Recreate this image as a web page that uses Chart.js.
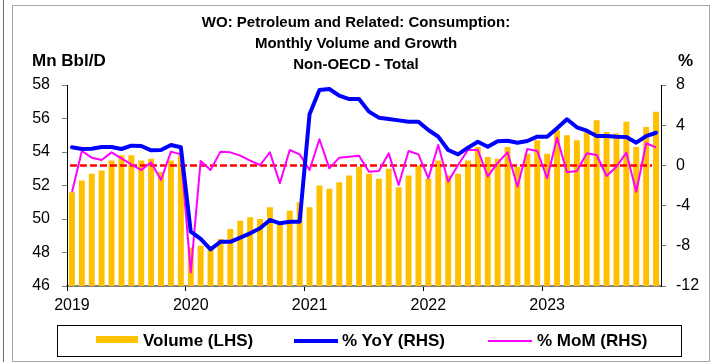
<!DOCTYPE html>
<html>
<head>
<meta charset="utf-8">
<script src="https://cdn.jsdelivr.net/npm/chart.js@4.4.1/dist/chart.umd.min.js"></script>
<style>
  html, body { margin: 0; padding: 0; background: #fff; }
  #wrap { position: relative; width: 712px; height: 362px; overflow: hidden;
          font-family: 'Liberation Sans', Arial, sans-serif; color: #000; }
  #edge { position: absolute; left: 3px; top: 0; width: 1px; height: 362px; background: #6e6e6e; }
  #frame { position: absolute; left: 12px; top: 5px; width: 696px; height: 355px; border: 1px solid #a6a6a6; }
  canvas { position: absolute; left: 0; top: 0; }
  .unit { position: absolute; font-weight: bold; font-size: 17px; line-height: 17px; white-space: nowrap; }
  #legend { position: absolute; left: 57px; top: 325px; width: 623px; height: 30px; border: 1px solid #000; }
  #legend .key { position: absolute; }
  #legend .txt { position: absolute; top: 0; line-height: 30px; font-size: 17px; font-weight: bold; white-space: nowrap; }
</style>
</head>
<body>
<div id="wrap">
  <div id="edge"></div>
  <div id="frame"></div>
  <canvas id="c" width="712" height="362"></canvas>
  <div class="unit" style="left:32px;top:52px;">Mn Bbl/D</div>
  <div class="unit" style="left:678px;top:52px;">%</div>
  <div id="legend"></div>
</div>
<script>
// Monthly series, Jan 2019 - Dec 2023
const years = ['2019', '2020', '2021', '2022', '2023'];
const monthNames = ['Jan', 'Feb', 'Mar', 'Apr', 'May', 'Jun', 'Jul', 'Aug', 'Sep', 'Oct', 'Nov', 'Dec'];

// Consumption volume, Mn Bbl/D (left axis)
const volume = [
  51.6, 52.3, 52.7, 52.9, 53.5, 53.8, 53.8, 53.5, 53.6, 52.8, 53.5, 53.8,
  48.3, 48.4, 48.2, 48.8, 49.4, 49.9, 50.1, 50.0, 50.7, 49.8, 50.5, 51.0,
  50.7, 52.0, 51.8, 52.2, 52.6, 53.1, 52.7, 52.4, 53.0, 51.9, 52.6, 53.2,
  52.4, 53.5, 52.6, 52.7, 53.5, 54.3, 53.7, 53.6, 54.3, 53.1, 53.9, 54.7,
  53.9, 55.3, 55.0, 54.7, 55.2, 55.9, 55.2, 55.1, 55.8, 54.3, 55.5, 56.4
];

// Year-on-year growth, % (right axis)
const yoy = [
  1.8, 1.63, 1.66, 1.83, 1.83, 1.63, 1.96, 1.93, 1.5, 1.53, 2.03, 1.8,
  -6.6, -7.3, -8.35, -7.6, -7.6, -7.19, -6.76, -6.26, -5.43, -5.76, -5.6, -5.6,
  5.1, 7.5, 7.6, 6.94, 6.6, 6.6, 5.35, 4.75, 4.62, 4.48, 4.35, 4.35,
  3.52, 2.86, 1.53, 1.1, 1.76, 2.36, 1.86, 2.4, 2.46, 2.26, 2.43, 2.86,
  2.86, 3.69, 4.59, 3.79, 3.45, 2.92, 2.92, 2.86, 2.83, 2.26, 2.92, 3.25
];

// Month-on-month growth, % (right axis)
const mom = [
  -2.68, 1.43, 0.77, 0.54, 1.3, 0.7, 0.1, -0.46, 0.3, -1.45, 1.37, 1.1,
  -10.64, 0.44, -0.46, 1.37, 1.3, 0.97, 0.47, 0.04, 1.3, -1.78, 1.53, 1.1,
  -0.46, 2.6, -0.29, 0.77, 0.87, 0.97, -0.63, -0.56, 1.2, -1.95, 1.43, 1.1,
  -1.29, 2.03, -1.62, 0.04, 1.53, 1.53, -1.1, 0.25, 1.3, -2.12, 1.63, 1.43,
  -1.29, 2.76, -0.69, -0.56, 1.2, 1.03, -1.05, -0.13, 1.27, -2.62, 2.2, 1.8
];

const seriesNames = ['Volume (LHS)', '% YoY (RHS)', '% MoM (RHS)'];
const titleLines = ['WO: Petroleum and Related: Consumption:', 'Monthly Volume and Growth', 'Non-OECD - Total'];

const leftTicks = [46, 48, 50, 52, 54, 56, 58];
const rightTicks = [-12, -8, -4, 0, 4, 8];

const labels = [];
years.forEach(y => monthNames.forEach(m => labels.push(m + ' ' + y)));

const FONT = "'Liberation Sans', Arial, sans-serif";
const COLORS = { volume: '#FFC000', yoy: '#0000FF', mom: '#FF00FF', zero: '#FF0000' };

// dashed red reference line at 0 % on the right axis, painted over the bars
const zeroLine = {
  id: 'zeroLine',
  afterDatasetDraw(chart, args) {
    if (args.index !== 0) return;
    const { ctx } = chart;
    const xs = chart.scales.x, ys = chart.scales.yR;
    const py = ys.getPixelForValue(0);
    ctx.save();
    ctx.strokeStyle = COLORS.zero;
    ctx.lineWidth = 2.5;
    ctx.setLineDash([7, 3]);
    ctx.beginPath();
    ctx.moveTo(xs.getPixelForValue(0) - 2, py);
    ctx.lineTo(xs.getPixelForValue(labels.length - 1) - 4, py);
    ctx.stroke();
    ctx.restore();
  }
};

new Chart(document.getElementById('c'), {
  type: 'bar',
  data: {
    labels,
    datasets: [
      { type: 'bar', label: seriesNames[0], data: volume, yAxisID: 'yL',
        backgroundColor: COLORS.volume, categoryPercentage: 1, barPercentage: 0.6, order: 3 },
      { type: 'line', label: seriesNames[1], data: yoy, yAxisID: 'yR',
        borderColor: COLORS.yoy, borderWidth: 4, pointRadius: 0, tension: 0,
        borderJoinStyle: 'round', borderCapStyle: 'round', order: 0 },
      { type: 'line', label: seriesNames[2], data: mom, yAxisID: 'yR',
        borderColor: COLORS.mom, borderWidth: 2, pointRadius: 0, tension: 0,
        borderJoinStyle: 'round', order: 1 }
    ]
  },
  options: {
    responsive: false,
    animation: false,
    devicePixelRatio: 1,
    layout: { padding: 0 },
    plugins: {
      legend: { display: false },
      tooltip: { enabled: false },
      title: {
        display: true,
        text: titleLines,
        color: '#000',
        font: { family: FONT, size: 15, weight: 'bold', lineHeight: 1.4 },
        padding: { top: 12, bottom: 10 }
      }
    },
    scales: {
      x: {
        type: 'category',
        offset: true,
        grid: {
          offset: true,
          drawOnChartArea: false,
          tickLength: 5,
          color: ctx => (ctx.index % 12 === 0 ? '#000' : 'rgba(0,0,0,0)')
        },
        border: { color: '#808080', width: 2 },
        ticks: {
          autoSkip: false, maxRotation: 0, minRotation: 0, padding: 5,
          color: '#000', font: { family: FONT, size: 16 },
          callback: (v, i) => (i % 12 === 0 ? years[i / 12] : '')
        },
        afterFit: s => { s.height = 76; }
      },
      yL: {
        position: 'left',
        min: leftTicks[0], max: leftTicks[leftTicks.length - 1],
        afterBuildTicks: s => { s.ticks = leftTicks.map(v => ({ value: v })); },
        grid: { drawOnChartArea: false, tickLength: 5, color: '#808080' },
        border: { color: '#000', width: 1 },
        ticks: { padding: 12, color: '#000', font: { family: FONT, size: 16 } },
        afterFit: s => { s.width = 67; }
      },
      yR: {
        position: 'right',
        min: rightTicks[0], max: rightTicks[rightTicks.length - 1],
        afterBuildTicks: s => { s.ticks = rightTicks.map(v => ({ value: v })); },
        grid: { drawOnChartArea: false, tickLength: 5, color: '#808080' },
        border: { color: '#000', width: 1 },
        ticks: { padding: 10, color: '#000', font: { family: FONT, size: 16 } },
        afterFit: s => { s.width = 51; }
      }
    }
  },
  plugins: [zeroLine]
});

// legend strip
const legendItems = [
  { key: 'left:38px;top:10px;width:42px;height:7px;background:' + COLORS.volume, txt: 85 },
  { key: 'left:236px;top:13px;width:44px;height:4px;background:' + COLORS.yoy, txt: 284 },
  { key: 'left:430px;top:14px;width:44px;height:2px;background:' + COLORS.mom, txt: 479 }
];
const legend = document.getElementById('legend');
legendItems.forEach((it, i) => {
  const k = document.createElement('div');
  k.className = 'key';
  k.style.cssText = it.key;
  legend.appendChild(k);
  const t = document.createElement('div');
  t.className = 'txt';
  t.style.left = it.txt + 'px';
  t.textContent = seriesNames[i];
  legend.appendChild(t);
});
</script>
</body>
</html>
